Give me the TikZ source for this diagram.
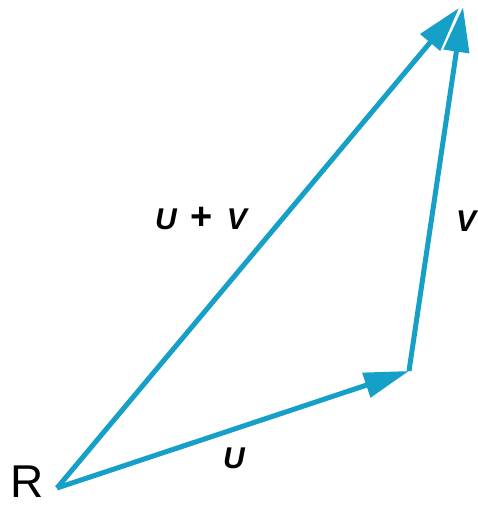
\documentclass[tikz,border=0pt]{standalone}
\usepackage{fontspec}
\setmainfont{Liberation Sans}
\usetikzlibrary{arrows.meta}
\definecolor{vec}{RGB}{22,160,200}
\tikzset{
  vecline/.style={draw=vec, line width=5pt, -{Triangle[length=45pt,width=25pt]}},
  lbl/.style={font=\fontsize{30}{30}\selectfont\bfseries\itshape, inner sep=0pt},
}
\begin{document}
\begin{tikzpicture}[x=1pt,y=-1pt]
\useasboundingbox (0,0) rectangle (477,506);
\coordinate (R) at (57,488);
\coordinate (A) at (409,371);
\coordinate (B) at (463,7);
\coordinate (C) at (459,8);
\draw[vecline] (R) -- (A);
\draw[vecline] (A) -- (B);
\draw[vecline] (R) -- (C);
\node[inner sep=0pt, font=\fontsize{46}{46}\selectfont] (r) at (27,482) {R};
\node[lbl] (u) at (234,458) {U};
\node[lbl] (v) at (466,221) {V};
\node[lbl] (uv) at (201,219) {U\hspace{14pt}{\upshape\fontsize{38}{38}\selectfont+}\hspace{14pt}V};
\end{tikzpicture}
\end{document}
